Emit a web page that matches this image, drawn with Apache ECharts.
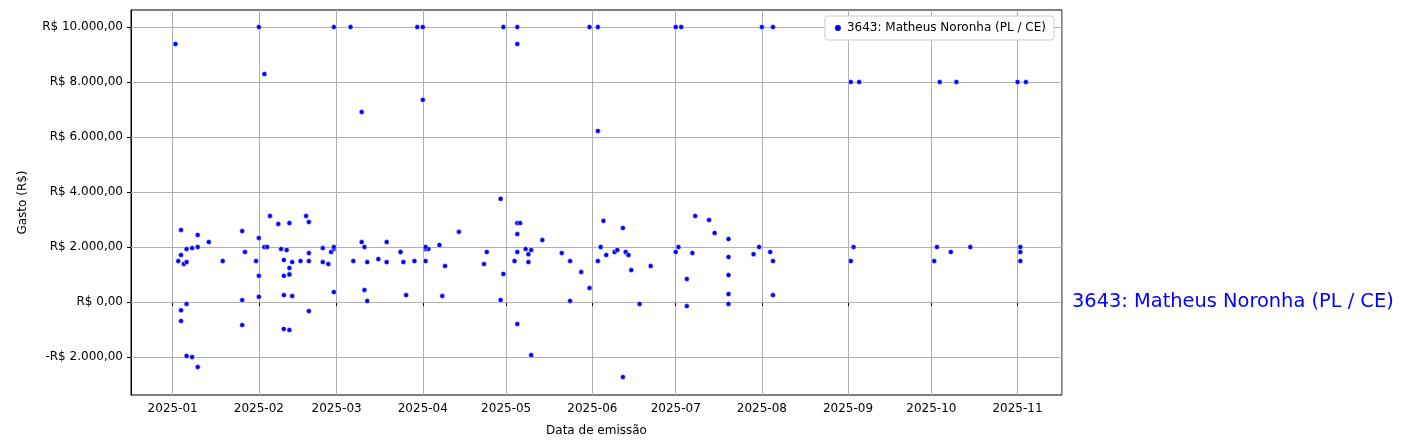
<!DOCTYPE html>
<html><head><meta charset="utf-8">
<script src="https://cdn.jsdelivr.net/npm/echarts@6/dist/echarts.min.js"></script>
<style>html,body{margin:0;padding:0;background:#fff}#c{width:1403px;height:448px}</style>
</head><body><div id="c"></div>
<script>
// days since 2025-01-01 and value (R$)
const days = [3,3,2,4,5,5,7,9,9,13,18,25,26,30,31,33,34,35,38,42,39,41,40,43,42,42,42,40,31,31,25,25,3,3,5,5,7,9,40,43,40,42,48,49,49,49,49,46,54,54,56,57,58,58,58,65,68,69,70,69,70,
 74,77,77,82,82,83,84,87,91,92,91,91,96,98,97,103,112,113,118,119,118,124,125,124,124,124,127,128,129,123,128,129,133,140,143,143,147,150,155,154,153,156,159,160,
 162,163,164,165,172,168,162,181,182,187,188,185,185,193,195,200,200,200,200,200,209,211,215,216,216,
 244,245,274,275,280,287,305,305,305,
 31,58,64,88,90,119,124,150,153,181,183,212,216,244,247,276,282,304,307,
 1,124,33,68,90,153];
const values = [2620,1710,1490,1380,1450,1930,1960,2440,2000,2180,1490,2580,1820,1490,2330,2000,2000,3130,2840,2870,1930,1890,1530,1450,1240,1020,1000,950,950,190,70,-840,-300,-690,-70,-1960,-2000,-2360,250,220,-980,-1020,3130,2910,1780,1490,-330,1490,1960,1450,1380,1820,1930,2000,360,1490,2180,2000,1450,440,40,
 1560,2180,1450,1820,1820,1450,250,1490,1930,1930,2000,1490,2070,1310,220,2550,1380,1820,3750,1020,70,2870,2870,2470,1820,-800,1930,1740,1890,1490,1450,-1930,2250,1780,1490,40,1090,510,2950,2000,1490,1710,1820,1890,
 2690,1820,1710,1160,1310,-70,-2730,1820,2000,1780,3130,840,-150,2980,2510,2290,1640,980,290,-70,1740,2000,1820,1490,250,
 1490,2000,1490,2000,1820,2000,2000,1820,1490,
 10000,10000,10000,10000,10000,10000,10000,10000,10000,10000,10000,10000,10000,8000,8000,8000,8000,8000,8000,
 9380,9380,8290,6910,7350,6220];
const yTicks = [-2000,0,2000,4000,6000,8000,10000];
const seriesName = '3643: Matheus Noronha (PL / CE)';

const DAY = 86400000, T0 = Date.UTC(2025,0,1);
const data = days.map((d,i)=>[T0+d*DAY, values[i]]);
const XMIN = Date.UTC(2024,11,17), XMAX = Date.UTC(2025,10,17);
function brl(v){const s=Math.abs(v).toFixed(2).split('.');const i=s[0].replace(/\B(?=(\d{3})+(?!\d))/g,'.');return (v<0?'-':'')+'R$ '+i+','+s[1];}
const F='DejaVu Sans';
const chart = echarts.init(document.getElementById('c'));
chart.setOption({
  animation:false,
  textStyle:{fontFamily:F},
  grid:{left:131,right:341,top:10,bottom:53,show:true,borderColor:'#000',borderWidth:1},
  legend:{right:349,top:16,data:[{name:seriesName,icon:'circle'}],itemWidth:8,itemHeight:8,
    backgroundColor:'#fff',borderColor:'#ccc',borderWidth:1,borderRadius:3,padding:[6,8],
    textStyle:{fontSize:12,color:'#000',fontFamily:F}},
  xAxis:{type:'time',min:XMIN,max:XMAX,
    minInterval:28*DAY,maxInterval:31*DAY,
    name:'Data de emissão',nameLocation:'middle',nameGap:30,nameTextStyle:{fontSize:12,color:'#000'},
    axisLine:{lineStyle:{color:'#000'}},axisTick:{show:true,length:4,lineStyle:{color:'#000'}},
    axisLabel:{color:'#000',fontSize:12,hideOverlap:false,formatter:v=>{const d=new Date(v);return d.getUTCFullYear()+'-'+String(d.getUTCMonth()+1).padStart(2,'0');}},
    splitLine:{show:true,lineStyle:{color:'#b0b0b0'}},minorTick:{show:false}},
  yAxis:{type:'value',min:-3382,max:10618,
    name:'Gasto (R$)',nameLocation:'middle',nameGap:102,nameTextStyle:{fontSize:12,color:'#000'},
    axisLine:{show:true,lineStyle:{color:'#000'}},
    axisTick:{show:true,length:4,customValues:yTicks,lineStyle:{color:'#000'}},
    axisLabel:{color:'#000',fontSize:12,customValues:yTicks,formatter:v=>brl(v)},
    splitLine:{show:false}},
  series:[{name:seriesName,type:'scatter',data:data,symbolSize:5,z:3,
    itemStyle:{color:'#0000ff',opacity:1,borderColor:'#fff',borderWidth:0.5},
    markLine:{silent:true,symbol:'none',z:1,label:{show:false},lineStyle:{color:'#b0b0b0',type:'solid',width:1},
      data:yTicks.map(v=>[{coord:[XMIN,v]},{coord:[XMAX,v]}])}}],
  graphic:[{type:'text',left:1072,top:292,style:{text:seriesName,fill:'#0000ff',font:'19.4px "DejaVu Sans"'}}]
});
</script></body></html>
